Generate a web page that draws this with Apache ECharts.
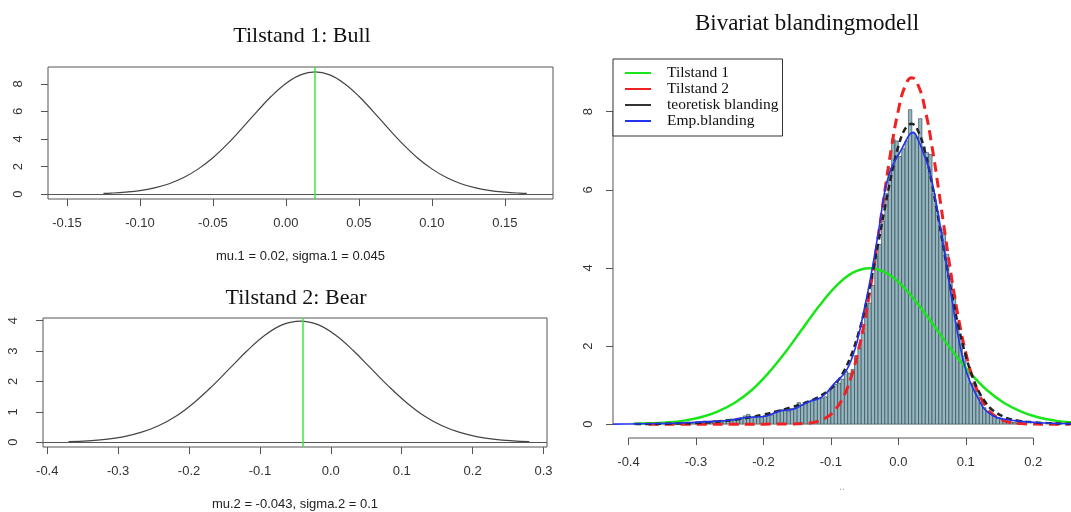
<!DOCTYPE html>
<html>
<head>
<meta charset="utf-8">
<title>Tilstander og blandingmodell</title>
<script src="https://cdn.jsdelivr.net/npm/echarts@6/dist/echarts.min.js"></script>
<style>
  html, body { margin: 0; padding: 0; background: #fff; }
  #main { width: 1071px; height: 512px; }
</style>
</head>
<body>
<div id="main"></div>
<script>
// Tilstand 1: Bull (mu.1 = 0.02, sigma.1 = 0.045)
const bullX = [-0.125, -0.12, -0.11, -0.10, -0.09, -0.08, -0.07, -0.06, -0.05, -0.04, -0.03, -0.02, -0.01, 0, 0.01, 0.02, 0.03, 0.04, 0.05, 0.06, 0.07, 0.08, 0.09, 0.10, 0.11, 0.12, 0.13, 0.14, 0.15, 0.16, 0.165]
const bullY = [0.05, 0.07, 0.14, 0.25, 0.45, 0.75, 1.20, 1.83, 2.64, 3.64, 4.78, 5.97, 7.10, 8.03, 8.65, 8.87, 8.65, 8.03, 7.10, 5.97, 4.78, 3.64, 2.64, 1.83, 1.20, 0.75, 0.45, 0.25, 0.14, 0.07, 0.05]
const bullMean = 0.02

// Tilstand 2: Bear (mu.2 = -0.043, sigma.2 = 0.1)
const bearX = [-0.37, -0.343, -0.318, -0.293, -0.268, -0.243, -0.218, -0.193, -0.168, -0.143, -0.118, -0.093, -0.068, -0.043, -0.018, 0.007, 0.032, 0.057, 0.082, 0.107, 0.132, 0.157, 0.182, 0.207, 0.232, 0.257, 0.28]
const bearY = [0.02, 0.044, 0.09, 0.175, 0.32, 0.54, 0.86, 1.30, 1.83, 2.42, 3.01, 3.52, 3.87, 3.99, 3.87, 3.52, 3.01, 2.42, 1.83, 1.30, 0.86, 0.54, 0.32, 0.175, 0.09, 0.044, 0.02]
const bearMean = -0.043

// Bivariat blandingmodell: histogram (density), bins of 0.005 from -0.35
const histStart = -0.35
const binWidth = 0.005
const histDensity = [
  0.02, 0.03, 0.02, 0.04, 0.03, 0.03, 0.04, 0.05, 0.04, 0.05,
  0.06, 0.05, 0.08, 0.07, 0.06, 0.09, 0.08, 0.10, 0.09, 0.12,
  0.13, 0.11, 0.15, 0.16, 0.21, 0.25, 0.18, 0.20, 0.22, 0.19,
  0.22, 0.26, 0.24, 0.30, 0.33, 0.37, 0.36, 0.33, 0.40, 0.42,
  0.55, 0.48, 0.52, 0.58, 0.62, 0.63, 0.66, 0.67, 0.70, 0.85,
  0.95, 1.02, 1.05, 1.15, 1.35, 1.30, 1.40, 1.75, 1.95, 2.35,
  3.05, 3.10, 3.55, 4.30, 4.60, 5.20, 5.90, 6.55, 7.30, 7.25,
  6.85, 7.05, 7.25, 8.05, 7.45, 7.35, 7.82, 7.10, 6.95, 6.90,
  5.90, 5.45, 5.00, 4.90, 4.35, 3.70, 3.30, 2.60, 2.20, 1.75,
  1.40, 1.05, 1.00, 0.85, 0.55, 0.42, 0.33, 0.25, 0.20, 0.15,
  0.12, 0.10, 0.07, 0.05, 0.04, 0.03, 0.02, 0.02
]

// curves in the right panel
const greenX = [-0.393, -0.368, -0.343, -0.318, -0.293, -0.268, -0.243, -0.218, -0.193, -0.168, -0.143, -0.118, -0.093, -0.068, -0.043, -0.018, 0.007, 0.032, 0.057, 0.082, 0.107, 0.132, 0.157, 0.182, 0.207, 0.232, 0.256]
const greenY = [0.01, 0.02, 0.044, 0.09, 0.175, 0.32, 0.54, 0.86, 1.30, 1.83, 2.42, 3.01, 3.52, 3.87, 3.99, 3.87, 3.52, 3.01, 2.42, 1.83, 1.30, 0.86, 0.54, 0.32, 0.175, 0.09, 0.046]

const redX = [-0.37, -0.30, -0.24, -0.20, -0.18, -0.16, -0.14, -0.12, -0.10, -0.09, -0.08, -0.07, -0.06, -0.05, -0.04, -0.03, -0.02, -0.01, 0, 0.01, 0.02, 0.03, 0.04, 0.05, 0.06, 0.07, 0.08, 0.09, 0.10, 0.11, 0.12, 0.13, 0.14, 0.16, 0.18, 0.20, 0.22, 0.255]
const redY = [0, 0, 0, 0, 0.002, 0.003, 0.016, 0.07, 0.25, 0.45, 0.75, 1.20, 1.83, 2.64, 3.64, 4.78, 5.97, 7.10, 8.03, 8.65, 8.87, 8.65, 8.03, 7.10, 5.97, 4.78, 3.64, 2.64, 1.83, 1.20, 0.75, 0.45, 0.25, 0.07, 0.016, 0.003, 0, 0]

const theoX = [-0.39, -0.36, -0.34, -0.32, -0.30, -0.28, -0.26, -0.24, -0.22, -0.20, -0.18, -0.16, -0.14, -0.12, -0.10, -0.09, -0.08, -0.07, -0.06, -0.05, -0.04, -0.03, -0.02, -0.01, 0, 0.01, 0.02, 0.03, 0.04, 0.05, 0.06, 0.07, 0.08, 0.09, 0.10, 0.11, 0.12, 0.13, 0.14, 0.16, 0.18, 0.20, 0.22, 0.24, 0.256]
const theoY = [0.002, 0.006, 0.010, 0.018, 0.031, 0.050, 0.080, 0.120, 0.175, 0.244, 0.328, 0.425, 0.536, 0.678, 0.912, 1.10, 1.375, 1.756, 2.27, 2.92, 3.71, 4.61, 5.53, 6.40, 7.11, 7.56, 7.69, 7.48, 6.94, 6.15, 5.21, 4.22, 3.27, 2.43, 1.75, 1.21, 0.815, 0.541, 0.357, 0.162, 0.083, 0.046, 0.026, 0.015, 0.010]

const empX = [-0.423, -0.40, -0.36, -0.323, -0.30, -0.274, -0.25, -0.225, -0.195, -0.175, -0.156, -0.136, -0.116, -0.106, -0.096, -0.081, -0.072, -0.062, -0.052, -0.042, -0.035, -0.027, -0.02, -0.012, -0.005, 0.002, 0.01, 0.017, 0.022, 0.03, 0.037, 0.047, 0.059, 0.069, 0.079, 0.089, 0.099, 0.109, 0.119, 0.128, 0.141, 0.156, 0.18, 0.22, 0.256]
const empY = [0.0, 0.005, 0.015, 0.03, 0.05, 0.07, 0.10, 0.17, 0.21, 0.34, 0.38, 0.55, 0.67, 0.81, 1.02, 1.28, 1.54, 2.05, 2.82, 3.67, 4.35, 5.2, 5.97, 6.48, 6.74, 6.95, 7.21, 7.42, 7.47, 7.25, 6.95, 6.44, 5.38, 4.35, 3.24, 2.22, 1.45, 0.98, 0.64, 0.38, 0.21, 0.13, 0.07, 0.03, 0.01]

// tick labels
const bullTicks = [-0.15, -0.10, -0.05, 0, 0.05, 0.10, 0.15]
const bullYTicks = [0, 2, 4, 6, 8]
const bearTicks = [-0.4, -0.3, -0.2, -0.1, 0, 0.1, 0.2, 0.3]
const bearYTicks = [0, 1, 2, 3, 4]
const mixTicks = [-0.4, -0.3, -0.2, -0.1, 0, 0.1, 0.2]
const mixYTicks = [0, 2, 4, 6, 8]

const pairs = (xs, ys) => xs.map((x, i) => [x, ys[i]])

const serif = 'Liberation Serif'
const sans = 'Liberation Sans'

// axis ranges (R adds 4% padding)
const mixXMin = -0.423
const mixYMin = -0.355

function xAxisOf(gridIndex, min, max, ticks, digits, extra) {
  return Object.assign({
    type: 'value',
    gridIndex: gridIndex,
    min: min,
    max: max,
    splitLine: { show: false },
    axisLine: { show: false, onZero: false },
    axisTick: { show: true, length: 7, customValues: ticks, lineStyle: { color: '#555' } },
    axisLabel: {
      customValues: ticks,
      formatter: v => v.toFixed(digits),
      margin: 18,
      color: '#333',
      fontFamily: sans,
      fontSize: 13
    },
    nameLocation: 'middle',
    nameTextStyle: { fontFamily: sans, fontSize: 13, color: '#222' }
  }, extra || {})
}

function yAxisOf(gridIndex, min, max, ticks, margin) {
  return {
    type: 'value',
    gridIndex: gridIndex,
    min: min,
    max: max,
    splitLine: { show: false },
    axisLine: { show: false, onZero: false },
    axisTick: { show: true, length: 7, customValues: ticks, lineStyle: { color: '#555' } },
    axisLabel: {
      customValues: ticks,
      formatter: v => String(v),
      rotate: 90,
      margin: margin,
      color: '#333',
      fontFamily: sans,
      fontSize: 13
    }
  }
}

function refLines(mean) {
  return {
    silent: true,
    symbol: ['none', 'none'],
    label: { show: false },
    animation: false,
    data: [
      { yAxis: 0, lineStyle: { color: '#555', width: 1, type: 'solid' } },
      { xAxis: mean, lineStyle: { color: '#3ee83e', width: 1.5, type: 'solid' } }
    ]
  }
}

const titleStyle = size => ({ fontFamily: serif, fontWeight: 'normal', fontSize: size, color: '#111' })

const chart = echarts.init(document.getElementById('main'))

chart.setOption({
  backgroundColor: '#fff',
  animation: false,
  title: [
    { text: 'Tilstand 1: Bull', left: 302, top: 25, textAlign: 'center', padding: 0, textStyle: titleStyle(22) },
    { text: 'Tilstand 2: Bear', left: 296, top: 287, textAlign: 'center', padding: 0, textStyle: titleStyle(22) },
    { text: 'Bivariat blandingmodell', left: 807, top: 12, textAlign: 'center', padding: 0, textStyle: titleStyle(23) }
  ],
  legend: {
    data: [
      { name: 'Tilstand 1', itemStyle: { color: '#19e619' } },
      { name: 'Tilstand 2', itemStyle: { color: '#ee2222' } },
      { name: 'teoretisk blanding', itemStyle: { color: '#333' } },
      { name: 'Emp.blanding', itemStyle: { color: '#2233ee' } }
    ],
    orient: 'vertical',
    left: 613,
    top: 59,
    icon: 'rect',
    itemWidth: 26,
    itemHeight: 2,
    itemGap: 0,
    padding: [6, 4, 7, 12],
    borderColor: '#333',
    borderWidth: 1,
    backgroundColor: '#fff',
    selectedMode: false,
    textStyle: { fontFamily: serif, fontSize: 15.5, lineHeight: 15, color: '#111', padding: [0, 0, 0, 11] }
  },
  grid: [
    { left: 48, top: 67, width: 505, height: 132, show: true, borderColor: '#555', borderWidth: 1 },
    { left: 43, top: 318, width: 504, height: 130, show: true, borderColor: '#555', borderWidth: 1 },
    { left: 613, top: 64, right: 0, height: 374 }
  ],
  xAxis: [
    xAxisOf(0, -0.163, 0.183, bullTicks, 2, { name: 'mu.1 = 0.02, sigma.1 = 0.045', nameGap: 51 }),
    xAxisOf(1, -0.406, 0.305, bearTicks, 1, { name: 'mu.2 = -0.043, sigma.2 = 0.1', nameGap: 51 }),
    xAxisOf(2, mixXMin, 0.256, mixTicks, 1, { name: '..', nameGap: 44, nameTextStyle: { fontFamily: sans, fontSize: 10, color: '#999' } })
  ],
  yAxis: [
    yAxisOf(0, -0.355, 9.22, bullYTicks, 23),
    yAxisOf(1, -0.16, 4.09, bearYTicks, 23),
    yAxisOf(2, mixYMin, 9.22, mixYTicks, 18)
  ],
  series: [
    {
      name: 'bull', type: 'line', xAxisIndex: 0, yAxisIndex: 0,
      data: pairs(bullX, bullY), smooth: 0.4, showSymbol: false, silent: true,
      lineStyle: { color: '#444', width: 1.2 },
      markLine: refLines(bullMean)
    },
    {
      name: 'bear', type: 'line', xAxisIndex: 1, yAxisIndex: 1,
      data: pairs(bearX, bearY), smooth: 0.4, showSymbol: false, silent: true,
      lineStyle: { color: '#444', width: 1.2 },
      markLine: refLines(bearMean)
    },
    {
      name: 'hist', type: 'custom', xAxisIndex: 2, yAxisIndex: 2, silent: true,
      data: histDensity.map((d, i) => [histStart + i * binWidth, histStart + (i + 1) * binWidth, d]),
      encode: { x: [0, 1], y: 2 },
      renderItem: function (params, api) {
        const p0 = api.coord([api.value(0), api.value(2)])
        const p1 = api.coord([api.value(1), 0])
        return {
          type: 'rect',
          shape: { x: p0[0], y: p0[1], width: p1[0] - p0[0], height: p1[1] - p0[1] },
          style: { fill: '#93b7c2', stroke: '#2e3b40', lineWidth: 0.6 }
        }
      }
    },
    {
      name: 'Tilstand 1', type: 'line', xAxisIndex: 2, yAxisIndex: 2,
      data: pairs(greenX, greenY), smooth: 0.4, showSymbol: false, silent: true,
      lineStyle: { color: '#19e619', width: 2.5 }, itemStyle: { color: '#19e619' }
    },
    {
      name: 'Tilstand 2', type: 'line', xAxisIndex: 2, yAxisIndex: 2,
      data: pairs(redX, redY), smooth: 0.5, showSymbol: false, silent: true,
      lineStyle: { color: '#ee2222', width: 3, type: [10, 6] }, itemStyle: { color: '#ee2222' }
    },
    {
      name: 'teoretisk blanding', type: 'line', xAxisIndex: 2, yAxisIndex: 2,
      data: pairs(theoX, theoY), smooth: 0.4, showSymbol: false, silent: true,
      lineStyle: { color: '#222', width: 2.5, type: [6, 4] }, itemStyle: { color: '#333' }
    },
    {
      name: 'Emp.blanding', type: 'line', xAxisIndex: 2, yAxisIndex: 2,
      data: pairs(empX, empY), smooth: 0.4, showSymbol: false, silent: true,
      lineStyle: { color: '#2233ee', width: 1.6 }, itemStyle: { color: '#2233ee' }
    },
    {
      // R style x axis line, spanning only the ticks
      name: 'xline', type: 'line', xAxisIndex: 2, yAxisIndex: 2, silent: true, clip: false,
      data: [[mixTicks[0], mixYMin], [mixTicks[mixTicks.length - 1], mixYMin]],
      showSymbol: false, lineStyle: { color: '#555', width: 1 }
    },
    {
      name: 'yline', type: 'line', xAxisIndex: 2, yAxisIndex: 2, silent: true, clip: false,
      data: [[mixXMin, mixYTicks[0]], [mixXMin, mixYTicks[mixYTicks.length - 1]]],
      showSymbol: false, lineStyle: { color: '#555', width: 1 }
    }
  ]
})
</script>
</body>
</html>
